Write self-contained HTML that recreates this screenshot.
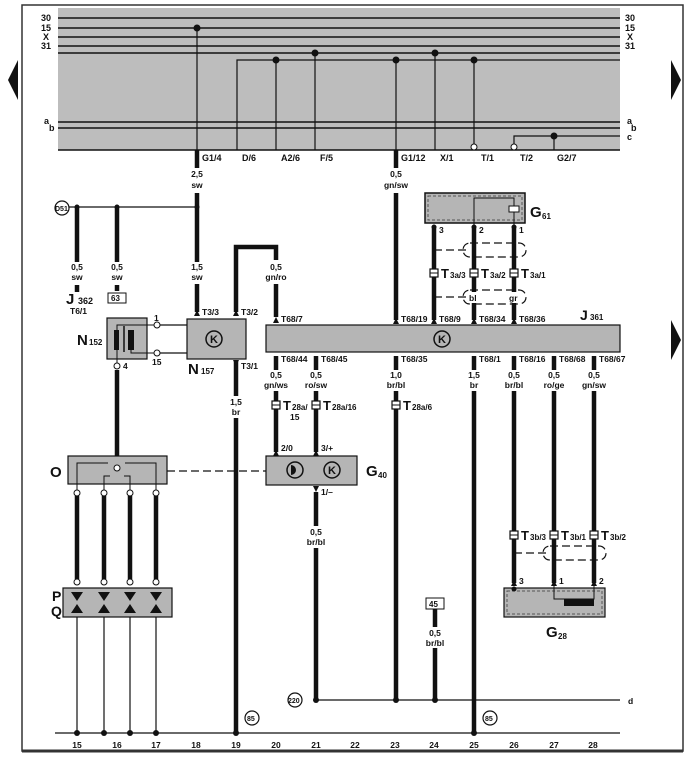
<!DOCTYPE html>
<html><head><meta charset="utf-8"><style>
body{margin:0;background:#fff}
svg{display:block;font-family:"Liberation Sans",sans-serif;font-weight:bold}
text{fill:#111}
.s{font-size:9px}
.t{font-size:8.5px}
</style></head><body>
<svg width="690" height="758" viewBox="0 0 690 758">
<defs>
<g id="K"><circle r="8" fill="none" stroke="#111" stroke-width="1.5"/><text x="-4" y="4" font-size="11">K</text></g>
<g id="conn"><rect x="-4" y="-4" width="8" height="8" fill="#fff" stroke="#111" stroke-width="1.2"/><line x1="-4" y1="0" x2="4" y2="0" stroke="#111"/></g>
<g id="arU"><path d="M-3,4 L0,-2 L3,4Z" fill="#111"/></g>
<g id="arD"><path d="M-3,-2 L0,4 L3,-2Z" fill="#111"/></g>
</defs>
<!-- frame -->
<rect x="22" y="5" width="661" height="746" fill="none" stroke="#333" stroke-width="1.5"/>
<line x1="22" y1="751" x2="683" y2="751" stroke="#333" stroke-width="3"/>
<!-- side arrows -->
<path d="M18,60 L8,80 L18,100Z" fill="#111"/>
<path d="M671,60 L681,80 L671,100Z" fill="#111"/>
<path d="M671,320 L681,340 L671,360Z" fill="#111"/>
<!-- top grey -->
<rect x="58" y="8" width="562" height="142" fill="#bdbdbd"/>
<g stroke="#111" stroke-width="1.6">
<line x1="58" y1="18" x2="620" y2="18"/>
<line x1="58" y1="28" x2="620" y2="28"/>
<line x1="58" y1="37" x2="620" y2="37"/>
<line x1="58" y1="46" x2="620" y2="46"/>
<line x1="58" y1="53" x2="620" y2="53"/>
<line x1="58" y1="122" x2="620" y2="122"/>
<line x1="58" y1="128" x2="620" y2="128"/>
<line x1="58" y1="150" x2="620" y2="150"/>
</g>
<g stroke="#111" stroke-width="1.2" fill="none">
<path d="M237,150 V60 H620"/>
<line x1="197" y1="28" x2="197" y2="150"/>
<line x1="276" y1="60" x2="276" y2="150"/>
<line x1="315" y1="53" x2="315" y2="150"/>
<line x1="396" y1="60" x2="396" y2="150"/>
<line x1="435" y1="53" x2="435" y2="150"/>
<line x1="474" y1="60" x2="474" y2="146"/>
<path d="M514,146 V136 H620"/>
<line x1="554" y1="136" x2="554" y2="150"/>
</g>
<g fill="#111">
<circle cx="197" cy="28" r="3.5"/><circle cx="276" cy="60" r="3.5"/><circle cx="315" cy="53" r="3.5"/>
<circle cx="396" cy="60" r="3.5"/><circle cx="435" cy="53" r="3.5"/><circle cx="474" cy="60" r="3.5"/>
<circle cx="554" cy="136" r="3.5"/>
</g>
<circle cx="474" cy="147" r="3" fill="#fff" stroke="#111"/>
<circle cx="514" cy="147" r="3" fill="#fff" stroke="#111"/>
<g class="s">
<text x="41" y="21">30</text><text x="41" y="31">15</text><text x="43" y="40">X</text><text x="41" y="49">31</text>
<text x="625" y="21">30</text><text x="625" y="31">15</text><text x="627" y="40">X</text><text x="625" y="49">31</text>
<text x="44" y="124">a</text><text x="49" y="131">b</text>
<text x="627" y="124">a</text><text x="631" y="131">b</text><text x="627" y="140">c</text>
<text x="202" y="161">G1/4</text><text x="242" y="161">D/6</text><text x="281" y="161">A2/6</text><text x="320" y="161">F/5</text>
<text x="401" y="161">G1/12</text><text x="440" y="161">X/1</text><text x="481" y="161">T/1</text><text x="520" y="161">T/2</text><text x="557" y="161">G2/7</text>
</g>
<!-- thick wires -->
<g stroke="#111" stroke-width="4.5" fill="none">
<line x1="197" y1="150" x2="197" y2="168"/>
<line x1="197" y1="193" x2="197" y2="262"/>
<line x1="197" y1="284" x2="197" y2="312"/>
<line x1="77" y1="207" x2="77" y2="262"/>
<line x1="77" y1="285" x2="77" y2="292"/>
<line x1="117" y1="207" x2="117" y2="262"/>
<line x1="117" y1="285" x2="117" y2="291"/>
<path d="M236,312 V247 H276 V260"/>
<line x1="276" y1="284" x2="276" y2="317"/>
<line x1="396" y1="150" x2="396" y2="168"/>
<line x1="396" y1="193" x2="396" y2="320"/>
<line x1="434" y1="226" x2="434" y2="320"/>
<line x1="474" y1="226" x2="474" y2="320"/>
<line x1="514" y1="226" x2="514" y2="320"/>
<line x1="236" y1="360" x2="236" y2="396"/>
<line x1="236" y1="418" x2="236" y2="733"/>
<line x1="117" y1="370" x2="117" y2="466"/>
<line x1="276" y1="356" x2="276" y2="370"/>
<line x1="316" y1="356" x2="316" y2="370"/>
<line x1="276" y1="391" x2="276" y2="452"/>
<line x1="316" y1="391" x2="316" y2="452"/>
<line x1="396" y1="356" x2="396" y2="370"/>
<line x1="396" y1="391" x2="396" y2="700"/>
<line x1="474" y1="356" x2="474" y2="370"/>
<line x1="474" y1="391" x2="474" y2="733"/>
<line x1="514" y1="356" x2="514" y2="370"/>
<line x1="554" y1="356" x2="554" y2="370"/>
<line x1="594" y1="356" x2="594" y2="370"/>
<line x1="514" y1="391" x2="514" y2="583"/>
<line x1="554" y1="391" x2="554" y2="583"/>
<line x1="594" y1="391" x2="594" y2="583"/>
<line x1="316" y1="492" x2="316" y2="526"/>
<line x1="316" y1="548" x2="316" y2="700"/>
<line x1="435" y1="609" x2="435" y2="627"/>
<line x1="435" y1="648" x2="435" y2="700"/>
<line x1="77" y1="496" x2="77" y2="579"/>
<line x1="104" y1="496" x2="104" y2="579"/>
<line x1="130" y1="496" x2="130" y2="579"/>
<line x1="156" y1="496" x2="156" y2="579"/>
</g>
<!-- thin lines -->
<g stroke="#111" stroke-width="1.2" fill="none">
<line x1="69" y1="207" x2="197" y2="207"/>
<line x1="77" y1="617" x2="77" y2="733"/><line x1="104" y1="617" x2="104" y2="733"/>
<line x1="130" y1="617" x2="130" y2="733"/><line x1="156" y1="617" x2="156" y2="733"/>
<line x1="55" y1="733" x2="620" y2="733"/>
<line x1="316" y1="700" x2="620" y2="700"/>
<line x1="160" y1="325" x2="187" y2="325"/>
<line x1="160" y1="353" x2="187" y2="353"/>
</g>
<g fill="#111">
<circle cx="77" cy="207" r="2.5"/><circle cx="117" cy="207" r="2.5"/><circle cx="197" cy="207" r="2.5"/>
<circle cx="77" cy="733" r="3"/><circle cx="104" cy="733" r="3"/><circle cx="130" cy="733" r="3"/><circle cx="156" cy="733" r="3"/>
<circle cx="236" cy="733" r="3"/><circle cx="474" cy="733" r="3"/>
<circle cx="316" cy="700" r="3"/><circle cx="396" cy="700" r="3"/><circle cx="435" cy="700" r="3"/>
</g>
<!-- circles labels -->
<g fill="#fff" stroke="#111" stroke-width="1.2">
<circle cx="62" cy="208" r="7"/><circle cx="252" cy="718" r="7"/><circle cx="490" cy="718" r="7"/><circle cx="295" cy="700" r="7"/>
</g>
<g font-size="7">
<text x="55" y="211">D51</text><text x="247" y="721">85</text><text x="485" y="721">85</text><text x="288" y="703">220</text>
</g>
<!-- wire labels -->
<g class="t" text-anchor="middle">
<text x="197" y="177">2,5</text><text x="197" y="188">sw</text>
<text x="396" y="177">0,5</text><text x="396" y="188">gn/sw</text>
<text x="77" y="270">0,5</text><text x="77" y="280">sw</text>
<text x="117" y="270">0,5</text><text x="117" y="280">sw</text>
<text x="197" y="270">1,5</text><text x="197" y="280">sw</text>
<text x="276" y="270">0,5</text><text x="276" y="280">gn/ro</text>
<text x="276" y="378">0,5</text><text x="276" y="388">gn/ws</text>
<text x="316" y="378">0,5</text><text x="316" y="388">ro/sw</text>
<text x="396" y="378">1,0</text><text x="396" y="388">br/bl</text>
<text x="474" y="378">1,5</text><text x="474" y="388">br</text>
<text x="514" y="378">0,5</text><text x="514" y="388">br/bl</text>
<text x="554" y="378">0,5</text><text x="554" y="388">ro/ge</text>
<text x="594" y="378">0,5</text><text x="594" y="388">gn/sw</text>
<text x="236" y="405">1,5</text><text x="236" y="415">br</text>
<text x="316" y="535">0,5</text><text x="316" y="545">br/bl</text>
<text x="435" y="636">0,5</text><text x="435" y="646">br/bl</text>
</g>
<!-- J362 / 63 -->
<text x="66" y="304" font-size="15">J</text><text x="78" y="304" font-size="9">362</text>
<text x="70" y="314" class="t">T6/1</text>
<rect x="108" y="293" width="18" height="10" fill="#fff" stroke="#111"/><text x="111" y="301" font-size="8">63</text>
<rect x="426" y="598" width="18" height="11" fill="#fff" stroke="#111"/><text x="429" y="607" font-size="8">45</text>
<!-- arrows & pin labels -->
<use href="#arU" x="197" y="312"/><text x="202" y="315" class="t">T3/3</text>
<use href="#arU" x="236" y="312"/><text x="241" y="315" class="t">T3/2</text>
<use href="#arU" x="276" y="319"/><text x="281" y="322" class="t">T68/7</text>
<use href="#arU" x="396" y="320"/><text x="401" y="322" class="t">T68/19</text>
<use href="#arU" x="434" y="320"/><text x="439" y="322" class="t">T68/9</text>
<use href="#arU" x="474" y="320"/><text x="479" y="322" class="t">T68/34</text>
<use href="#arU" x="514" y="320"/><text x="519" y="322" class="t">T68/36</text>
<text x="580" y="320" font-size="14">J</text><text x="590" y="320" font-size="8">361</text>
<use href="#arD" x="236" y="362"/><text x="241" y="369" class="t">T3/1</text>
<g class="t">
<text x="281" y="362">T68/44</text><text x="321" y="362">T68/45</text><text x="401" y="362">T68/35</text>
<text x="479" y="362">T68/1</text><text x="519" y="362">T68/16</text><text x="559" y="362">T68/68</text><text x="599" y="362">T68/67</text>
</g>
<!-- T connectors -->
<use href="#conn" x="276" y="405"/><use href="#conn" x="316" y="405"/><use href="#conn" x="396" y="405"/>
<text x="283" y="410" font-size="13">T</text><text x="292" y="410" font-size="8">28a/</text><text x="290" y="420" class="t">15</text>
<text x="323" y="410" font-size="13">T</text><text x="332" y="410" font-size="8">28a/16</text>
<text x="403" y="410" font-size="13">T</text><text x="412" y="410" font-size="8">28a/6</text>
<use href="#conn" x="434" y="273"/><use href="#conn" x="474" y="273"/><use href="#conn" x="514" y="273"/>
<text x="441" y="278" font-size="13">T</text><text x="450" y="278" font-size="8">3a/3</text>
<text x="481" y="278" font-size="13">T</text><text x="490" y="278" font-size="8">3a/2</text>
<text x="521" y="278" font-size="13">T</text><text x="530" y="278" font-size="8">3a/1</text>
<use href="#conn" x="514" y="535"/><use href="#conn" x="554" y="535"/><use href="#conn" x="594" y="535"/>
<text x="521" y="540" font-size="13">T</text><text x="530" y="540" font-size="8">3b/3</text>
<text x="561" y="540" font-size="13">T</text><text x="570" y="540" font-size="8">3b/1</text>
<text x="601" y="540" font-size="13">T</text><text x="610" y="540" font-size="8">3b/2</text>
<!-- shields -->
<g stroke="#111" stroke-width="1.2" fill="none" stroke-dasharray="8,4">
<line x1="434" y1="250" x2="468" y2="250"/>
<path d="M470,243 H519 A7,7 0 0 1 519,257 H470 A7,7 0 0 1 470,243Z"/>
<line x1="434" y1="297" x2="468" y2="297"/>
<path d="M470,290 H519 A7,7 0 0 1 519,304 H470 A7,7 0 0 1 470,290Z"/>
<line x1="514" y1="553" x2="548" y2="553"/>
<path d="M550,546 H599 A7,7 0 0 1 599,560 H550 A7,7 0 0 1 550,546Z"/>
<line x1="167" y1="471" x2="266" y2="471"/>
</g>
<circle cx="434" cy="250" r="2" fill="#111"/><circle cx="434" cy="297" r="2" fill="#111"/><circle cx="514" cy="553" r="2" fill="#111"/>
<rect x="467" y="292" width="14" height="11" fill="#fff"/><text x="469" y="301" class="t">bl</text>
<rect x="507" y="292" width="14" height="11" fill="#fff"/><text x="509" y="301" class="t">gr</text>
<!-- G61 -->
<rect x="425" y="193" width="100" height="30" fill="#b5b5b5" stroke="#111" stroke-width="1.5"/>
<rect x="428" y="196" width="94" height="24" fill="none" stroke="#555" stroke-dasharray="3,2"/>
<path d="M474,226 V198 H514 V226" fill="none" stroke="#111"/>
<rect x="509" y="206" width="10" height="6" fill="#fff" stroke="#111"/>
<text x="530" y="217" font-size="15">G</text><text x="542" y="219" font-size="8">61</text>
<g class="t"><text x="439" y="233">3</text><text x="479" y="233">2</text><text x="519" y="233">1</text></g>
<circle cx="434" cy="227" r="2.5" fill="#111"/><circle cx="474" cy="227" r="2.5" fill="#111"/><circle cx="514" cy="227" r="2.5" fill="#111"/>
<!-- J361 box -->
<rect x="266" y="325" width="354" height="27" fill="#b5b5b5" stroke="#111" stroke-width="1.2"/>
<use href="#K" x="442" y="339"/>
<!-- N152 -->
<rect x="107" y="318" width="40" height="41" fill="#b5b5b5" stroke="#111" stroke-width="1.2"/>
<rect x="114" y="330" width="5" height="20" fill="#111"/>
<line x1="124" y1="326" x2="124" y2="352" stroke="#111" stroke-width="1.5"/>
<rect x="128" y="330" width="6" height="20" fill="#111"/>
<path d="M117,366 V325 H160" fill="none" stroke="#111"/>
<path d="M131,330 V353 H160" fill="none" stroke="#111"/>
<circle cx="157" cy="325" r="3" fill="#fff" stroke="#111"/><circle cx="157" cy="353" r="3" fill="#fff" stroke="#111"/>
<circle cx="117" cy="366" r="3" fill="#fff" stroke="#111"/>
<text x="154" y="321" class="t">1</text><text x="152" y="365" class="t">15</text><text x="123" y="369" class="t">4</text>
<text x="77" y="345" font-size="15">N</text><text x="89" y="345" font-size="8">152</text>
<!-- N157 -->
<rect x="187" y="319" width="59" height="40" fill="#b5b5b5" stroke="#111" stroke-width="1.2"/>
<use href="#K" x="214" y="339"/>
<text x="188" y="374" font-size="15">N</text><text x="201" y="374" font-size="8">157</text>
<!-- G40 -->
<use href="#arU" x="276" y="452"/><text x="281" y="451" class="t">2/0</text>
<use href="#arU" x="316" y="452"/><text x="321" y="451" class="t">3/+</text>
<rect x="266" y="456" width="91" height="29" fill="#b5b5b5" stroke="#111" stroke-width="1.2"/>
<circle cx="295" cy="470" r="8" fill="none" stroke="#111" stroke-width="1.5"/><path d="M291,465 A5,5 0 0 1 291,475Z" fill="#111"/>
<use href="#K" x="332" y="470"/>
<use href="#arD" x="316" y="488"/><text x="321" y="495" class="t">1/–</text>
<text x="366" y="476" font-size="15">G</text><text x="378" y="478" font-size="8">40</text>
<!-- O box -->
<rect x="68" y="456" width="99" height="28" fill="#b5b5b5" stroke="#111" stroke-width="1.2"/>
<g stroke="#111" fill="none">
<path d="M77,492 V463 H108"/><path d="M156,492 V463 H125"/>
<path d="M104,492 V476 H110"/><path d="M130,492 V476 H124"/>
</g>
<circle cx="117" cy="468" r="3" fill="#fff" stroke="#111"/>
<text x="50" y="477" font-size="15">O</text>
<g fill="#fff" stroke="#111">
<circle cx="77" cy="493" r="3"/><circle cx="104" cy="493" r="3"/><circle cx="130" cy="493" r="3"/><circle cx="156" cy="493" r="3"/>
<circle cx="77" cy="582" r="3"/><circle cx="104" cy="582" r="3"/><circle cx="130" cy="582" r="3"/><circle cx="156" cy="582" r="3"/>
</g>
<!-- PQ -->
<rect x="63" y="588" width="109" height="29" fill="#b5b5b5" stroke="#111" stroke-width="1.2"/>
<g fill="#111">
<path d="M71,592 L83,592 L77,601Z M98,592 L110,592 L104,601Z M124,592 L136,592 L130,601Z M150,592 L162,592 L156,601Z"/>
<path d="M71,613 L83,613 L77,604Z M98,613 L110,613 L104,604Z M124,613 L136,613 L130,604Z M150,613 L162,613 L156,604Z"/>
</g>
<text x="52" y="601" font-size="14">P</text><text x="51" y="616" font-size="14">Q</text>
<!-- G28 -->
<use href="#arU" x="514" y="582"/><use href="#arU" x="554" y="582"/><use href="#arU" x="594" y="582"/>
<text x="519" y="584" class="t">3</text><text x="559" y="584" class="t">1</text><text x="599" y="584" class="t">2</text>
<rect x="504" y="588" width="101" height="29" fill="#b5b5b5" stroke="#111" stroke-width="1.2"/>
<rect x="507" y="591" width="95" height="23" fill="none" stroke="#555" stroke-dasharray="3,2"/>
<path d="M554,586 V599 H594 V586" fill="none" stroke="#111"/>
<rect x="564" y="599" width="30" height="7" fill="#111"/>
<circle cx="514" cy="589" r="2.5" fill="#111"/>
<text x="546" y="637" font-size="15">G</text><text x="558" y="639" font-size="8">28</text>
<text x="628" y="704" class="t">d</text>
<!-- column numbers -->
<g class="t" text-anchor="middle">
<text x="77" y="748">15</text><text x="117" y="748">16</text><text x="156" y="748">17</text><text x="196" y="748">18</text>
<text x="236" y="748">19</text><text x="276" y="748">20</text><text x="316" y="748">21</text><text x="355" y="748">22</text>
<text x="395" y="748">23</text><text x="434" y="748">24</text><text x="474" y="748">25</text><text x="514" y="748">26</text>
<text x="554" y="748">27</text><text x="593" y="748">28</text>
</g>
</svg>
</body></html>
